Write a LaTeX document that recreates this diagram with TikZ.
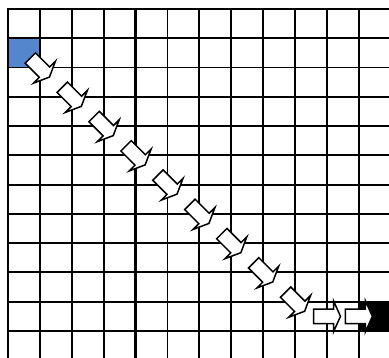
\documentclass[tikz,border=0pt]{standalone}
\definecolor{cellblue}{RGB}{84,134,206}
\begin{document}
\begin{tikzpicture}[x=1pt,y=-1pt,
  gridline/.style={line width=1.9pt, black, line cap=rect},
  thickgrid/.style={line width=2.8pt, black},
  arrowbox/.style={draw=black, fill=white, line width=1.5pt, line join=miter, miter limit=10},
  barrow/.pic={\path[arrowbox] (-13.5,-7.3) -- (6.5,-7.3) -- (6.5,-15.5) -- (13.5,0) -- (6.5,15.5) -- (6.5,7.3) -- (-13.5,7.3) -- cycle;}]
\useasboundingbox (0,0) rectangle (389,358);
\clip (0,0) rectangle (389,358);
\def\cw{31.9}
\def\ch{29.27}
\fill[cellblue] (8,9+\ch) rectangle (8+\cw,9+2*\ch);
\fill[black] (8+11*\cw,9+10*\ch) rectangle (8+12*\cw,9+11*\ch);
\foreach \i in {0,...,12} \draw[gridline] (8+\i*\cw,9) -- (8+\i*\cw,362);
\foreach \j in {0,...,12} \draw[gridline] (8,9+\j*\ch) -- (394,9+\j*\ch);
\draw[thickgrid] (8+4*\cw,9) -- (8+4*\cw,362);
\foreach \k in {1,...,9} \pic[rotate=-45] at (8+\k*\cw, 9+\k*\ch+\ch) {barrow};
\pic at (8+10*\cw, 9+10.5*\ch) {barrow};
\pic at (8+11*\cw, 9+10.5*\ch) {barrow};
\end{tikzpicture}
\end{document}
